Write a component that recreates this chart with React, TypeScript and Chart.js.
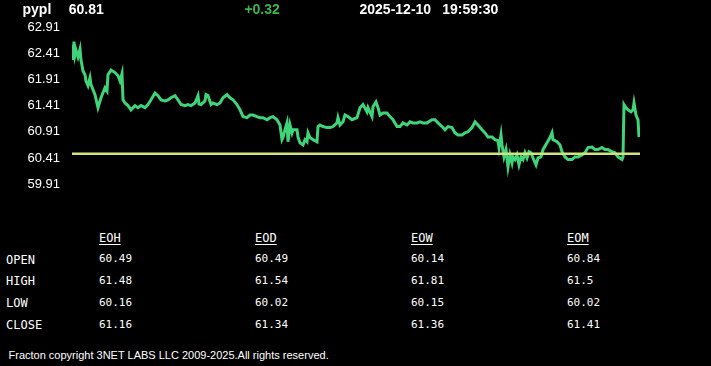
import React, { useEffect, useRef } from "react";
import { Chart, registerables } from "chart.js";

Chart.register(...registerables);

const symbol = "pypl";
const lastPrice = "60.81";
const changeText = "+0.32";
const dateText = "2025-12-10";
const timeText = "19:59:30";

const yTickValues = [59.91, 60.41, 60.91, 61.41, 61.91, 62.41, 62.91];
const openPrice = 60.49;
const sessionStart = 0;
const sessionEnd = 568;

const timeIndex = [
  0, 1, 2, 3, 4, 6, 8, 9, 11, 13, 14, 16, 18, 19, 23, 26, 29, 33, 35, 36, 39, 43, 46, 48, 50, 51, 53, 56, 59, 63,
  66, 69, 73, 76, 79, 83, 86, 89, 93, 96, 99, 103, 106, 109, 113, 116, 119, 123, 126, 127, 129, 133, 134, 136, 139,
  141, 145, 148, 151, 155, 158, 161, 165, 168, 171, 175, 178, 181, 185, 188, 191, 195, 198, 201, 205, 208, 210, 211,
  213, 215, 216, 218, 220, 221, 225, 226, 228, 231, 233, 235, 236, 238, 241, 245, 246, 248, 251, 255, 258, 261, 265,
  266, 268, 271, 273, 276, 280, 285, 288, 291, 295, 296, 300, 301, 304, 306, 308, 311, 315, 318, 321, 325, 328, 331,
  335, 338, 341, 345, 348, 351, 355, 360, 363, 366, 370, 373, 376, 380, 383, 386, 390, 393, 396, 400, 403, 406, 410,
  413, 416, 420, 423, 426, 427, 429, 430, 432, 434, 436, 438, 440, 441, 443, 445, 447, 449, 451, 453, 455, 457, 459,
  461, 464, 466, 469, 471, 475, 478, 480, 481, 485, 488, 490, 493, 496, 500, 503, 506, 510, 513, 516, 520, 523, 526,
  530, 533, 536, 540, 543, 546, 550, 551, 552, 554, 556, 559, 561, 562, 564, 566, 567,
];

const prices = [
  62.57, 62.28, 62.63, 62.38, 62.47, 62.34, 62.49, 62.28, 62.07, 62.0, 61.88, 61.79, 61.94, 61.81, 61.62, 61.37, 61.56,
  61.75, 61.69, 62.0, 62.09, 62.04, 61.98, 61.88, 62.02, 61.52, 61.46, 61.41, 61.33, 61.41, 61.37, 61.41, 61.37, 61.43,
  61.52, 61.65, 61.6, 61.52, 61.5, 61.52, 61.56, 61.6, 61.52, 61.43, 61.41, 61.43, 61.41, 61.46, 61.6, 61.44, 61.43,
  61.5, 61.62, 61.6, 61.43, 61.46, 61.43, 61.46, 61.56, 61.62, 61.56, 61.52, 61.43, 61.33, 61.2, 61.18, 61.23, 61.23,
  61.2, 61.18, 61.18, 61.14, 61.18, 61.2, 61.14, 61.04, 60.76, 60.8, 60.95, 61.08, 60.72, 61.04, 60.89, 60.95, 60.95,
  60.81, 60.7, 60.66, 60.76, 60.72, 60.89, 60.8, 60.76, 60.72, 61.01, 61.04, 61.01, 60.99, 60.99, 61.01, 61.08, 61.18,
  61.04, 61.1, 61.23, 61.2, 61.14, 61.18, 61.37, 61.43, 61.29, 61.37, 61.2, 61.39, 61.48, 61.37, 61.23, 61.27, 61.27,
  61.2, 61.14, 61.01, 61.01, 61.08, 61.04, 61.1, 61.08, 61.08, 61.1, 61.08, 61.08, 61.14, 61.14, 61.08, 61.01, 60.95,
  61.01, 60.99, 60.89, 60.85, 60.85, 60.89, 60.91, 60.99, 61.1, 61.04, 60.95, 60.89, 60.81, 60.81, 60.76, 60.74, 60.61,
  60.85, 60.66, 60.43, 60.57, 60.24, 60.47, 60.32, 60.43, 60.38, 60.47, 60.28, 60.43, 60.38, 60.51, 60.41, 60.53, 60.51,
  60.41, 60.28, 60.41, 60.43, 60.57, 60.7, 60.8, 60.89, 60.76, 60.72, 60.66, 60.53, 60.43, 60.38, 60.38, 60.43, 60.43,
  60.47, 60.51, 60.61, 60.62, 60.57, 60.57, 60.61, 60.57, 60.57, 60.53, 60.51, 60.43, 60.38, 60.43, 61.43, 61.37, 61.33,
  61.29, 61.33, 61.46, 61.23, 61.14, 60.81,
];

const tableColumns = ["EOH", "EOD", "EOW", "EOM"];
const tableRows = ["OPEN", "HIGH", "LOW", "CLOSE"];
const eohValues = ["60.49", "61.48", "60.16", "61.16"];
const eodValues = ["60.49", "61.54", "60.02", "61.34"];
const eowValues = ["60.14", "61.81", "60.15", "61.36"];
const eomValues = ["60.84", "61.5", "60.02", "61.41"];
const footerText = "Fracton copyright 3NET LABS LLC 2009-2025.All rights reserved.";

const columnValues = [eohValues, eodValues, eowValues, eomValues];
const columnX = [99, 255, 411, 567];
const labelCy = [260, 280.8, 303, 324.8];
const valueCy = [258.3, 280, 302.2, 324];

const SANS = "'Liberation Sans', Arial, sans-serif";
const MONO = "'DejaVu Sans Mono', monospace";

function Txt(props: {
  x: number;
  cy: number;
  size: number;
  text: string;
  bold?: boolean;
  color?: string;
  family?: string;
  underline?: boolean;
}) {
  const { x, cy, size, text, bold, color, family, underline } = props;
  return (
    <div
      style={{
        position: "absolute",
        left: x,
        top: cy - 0.49 * size,
        fontSize: size,
        lineHeight: `${size}px`,
        fontFamily: family || SANS,
        fontWeight: bold ? 700 : 400,
        color: color || "#ffffff",
        whiteSpace: "nowrap",
        textDecoration: underline ? "underline" : "none",
        textUnderlineOffset: underline ? 2 : undefined,
      }}
    >
      {text}
    </div>
  );
}

export default function App() {
  const canvasRef = useRef<HTMLCanvasElement | null>(null);

  useEffect(() => {
    const canvas = canvasRef.current;
    if (!canvas) return;
    const pricePoints = timeIndex.map((t, i) => ({ x: t, y: prices[i] }));
    const openPoints = [
      { x: sessionStart, y: openPrice },
      { x: sessionEnd, y: openPrice },
    ];
    const chart = new Chart(canvas, {
      type: "line",
      data: {
        datasets: [
          {
            data: openPoints,
            borderColor: "#d2e27e",
            borderWidth: 2.5,
            pointRadius: 0,
            tension: 0,
          },
          {
            data: pricePoints,
            borderColor: "#3fd47a",
            borderWidth: 3,
            pointRadius: 0,
            tension: 0,
          },
        ],
      },
      options: {
        animation: false,
        responsive: false,
        events: [],
        layout: { padding: { top: 27, bottom: 0, left: 0, right: 71 } },
        plugins: { legend: { display: false }, tooltip: { enabled: false } },
        scales: {
          x: {
            type: "linear",
            display: false,
            min: sessionStart,
            max: sessionEnd,
          },
          y: {
            type: "linear",
            min: yTickValues[0],
            max: yTickValues[yTickValues.length - 1],
            grid: { display: false, drawTicks: false },
            border: { display: false },
            afterBuildTicks: (scale: any) => {
              scale.ticks = yTickValues.map((v) => ({ value: v }));
            },
            afterFit: (scale: any) => {
              scale.width = 72;
            },
            ticks: {
              padding: 12,
              color: "#ffffff",
              font: { family: SANS, size: 13, lineHeight: 1.2 },
              callback: (v: any) => Number(v).toFixed(2),
            },
          },
        },
      },
    });
    return () => chart.destroy();
  }, []);

  return (
    <div
      style={{
        position: "fixed",
        left: 0,
        top: 0,
        width: 711,
        height: 366,
        background: "#000000",
        overflow: "hidden",
      }}
    >
      <canvas ref={canvasRef} width={711} height={204} style={{ position: "absolute", left: 0, top: 0, display: "block" }} />
      <Txt x={22.5} cy={8.7} size={14} bold text={symbol} />
      <Txt x={68.7} cy={8.7} size={14} bold text={lastPrice} />
      <Txt x={244.4} cy={8.7} size={14} bold text={changeText} color="#3bb54a" />
      <Txt x={359.5} cy={8.7} size={14} bold text={dateText} />
      <Txt x={442.3} cy={8.7} size={14} bold text={timeText} />
      {tableColumns.map((c, i) => (
        <Txt key={c} x={columnX[i]} cy={238.3} size={12} family={MONO} underline text={c} />
      ))}
      {tableRows.map((r, j) => (
        <Txt key={r} x={6} cy={labelCy[j]} size={12} family={MONO} text={r} />
      ))}
      {columnValues.map((vals, i) =>
        vals.map((v, j) => (
          <Txt key={`${i}-${j}`} x={columnX[i]} cy={valueCy[j]} size={11} family={MONO} text={v} />
        ))
      )}
      <Txt x={8.5} cy={355} size={11} text={footerText} />
    </div>
  );
}
